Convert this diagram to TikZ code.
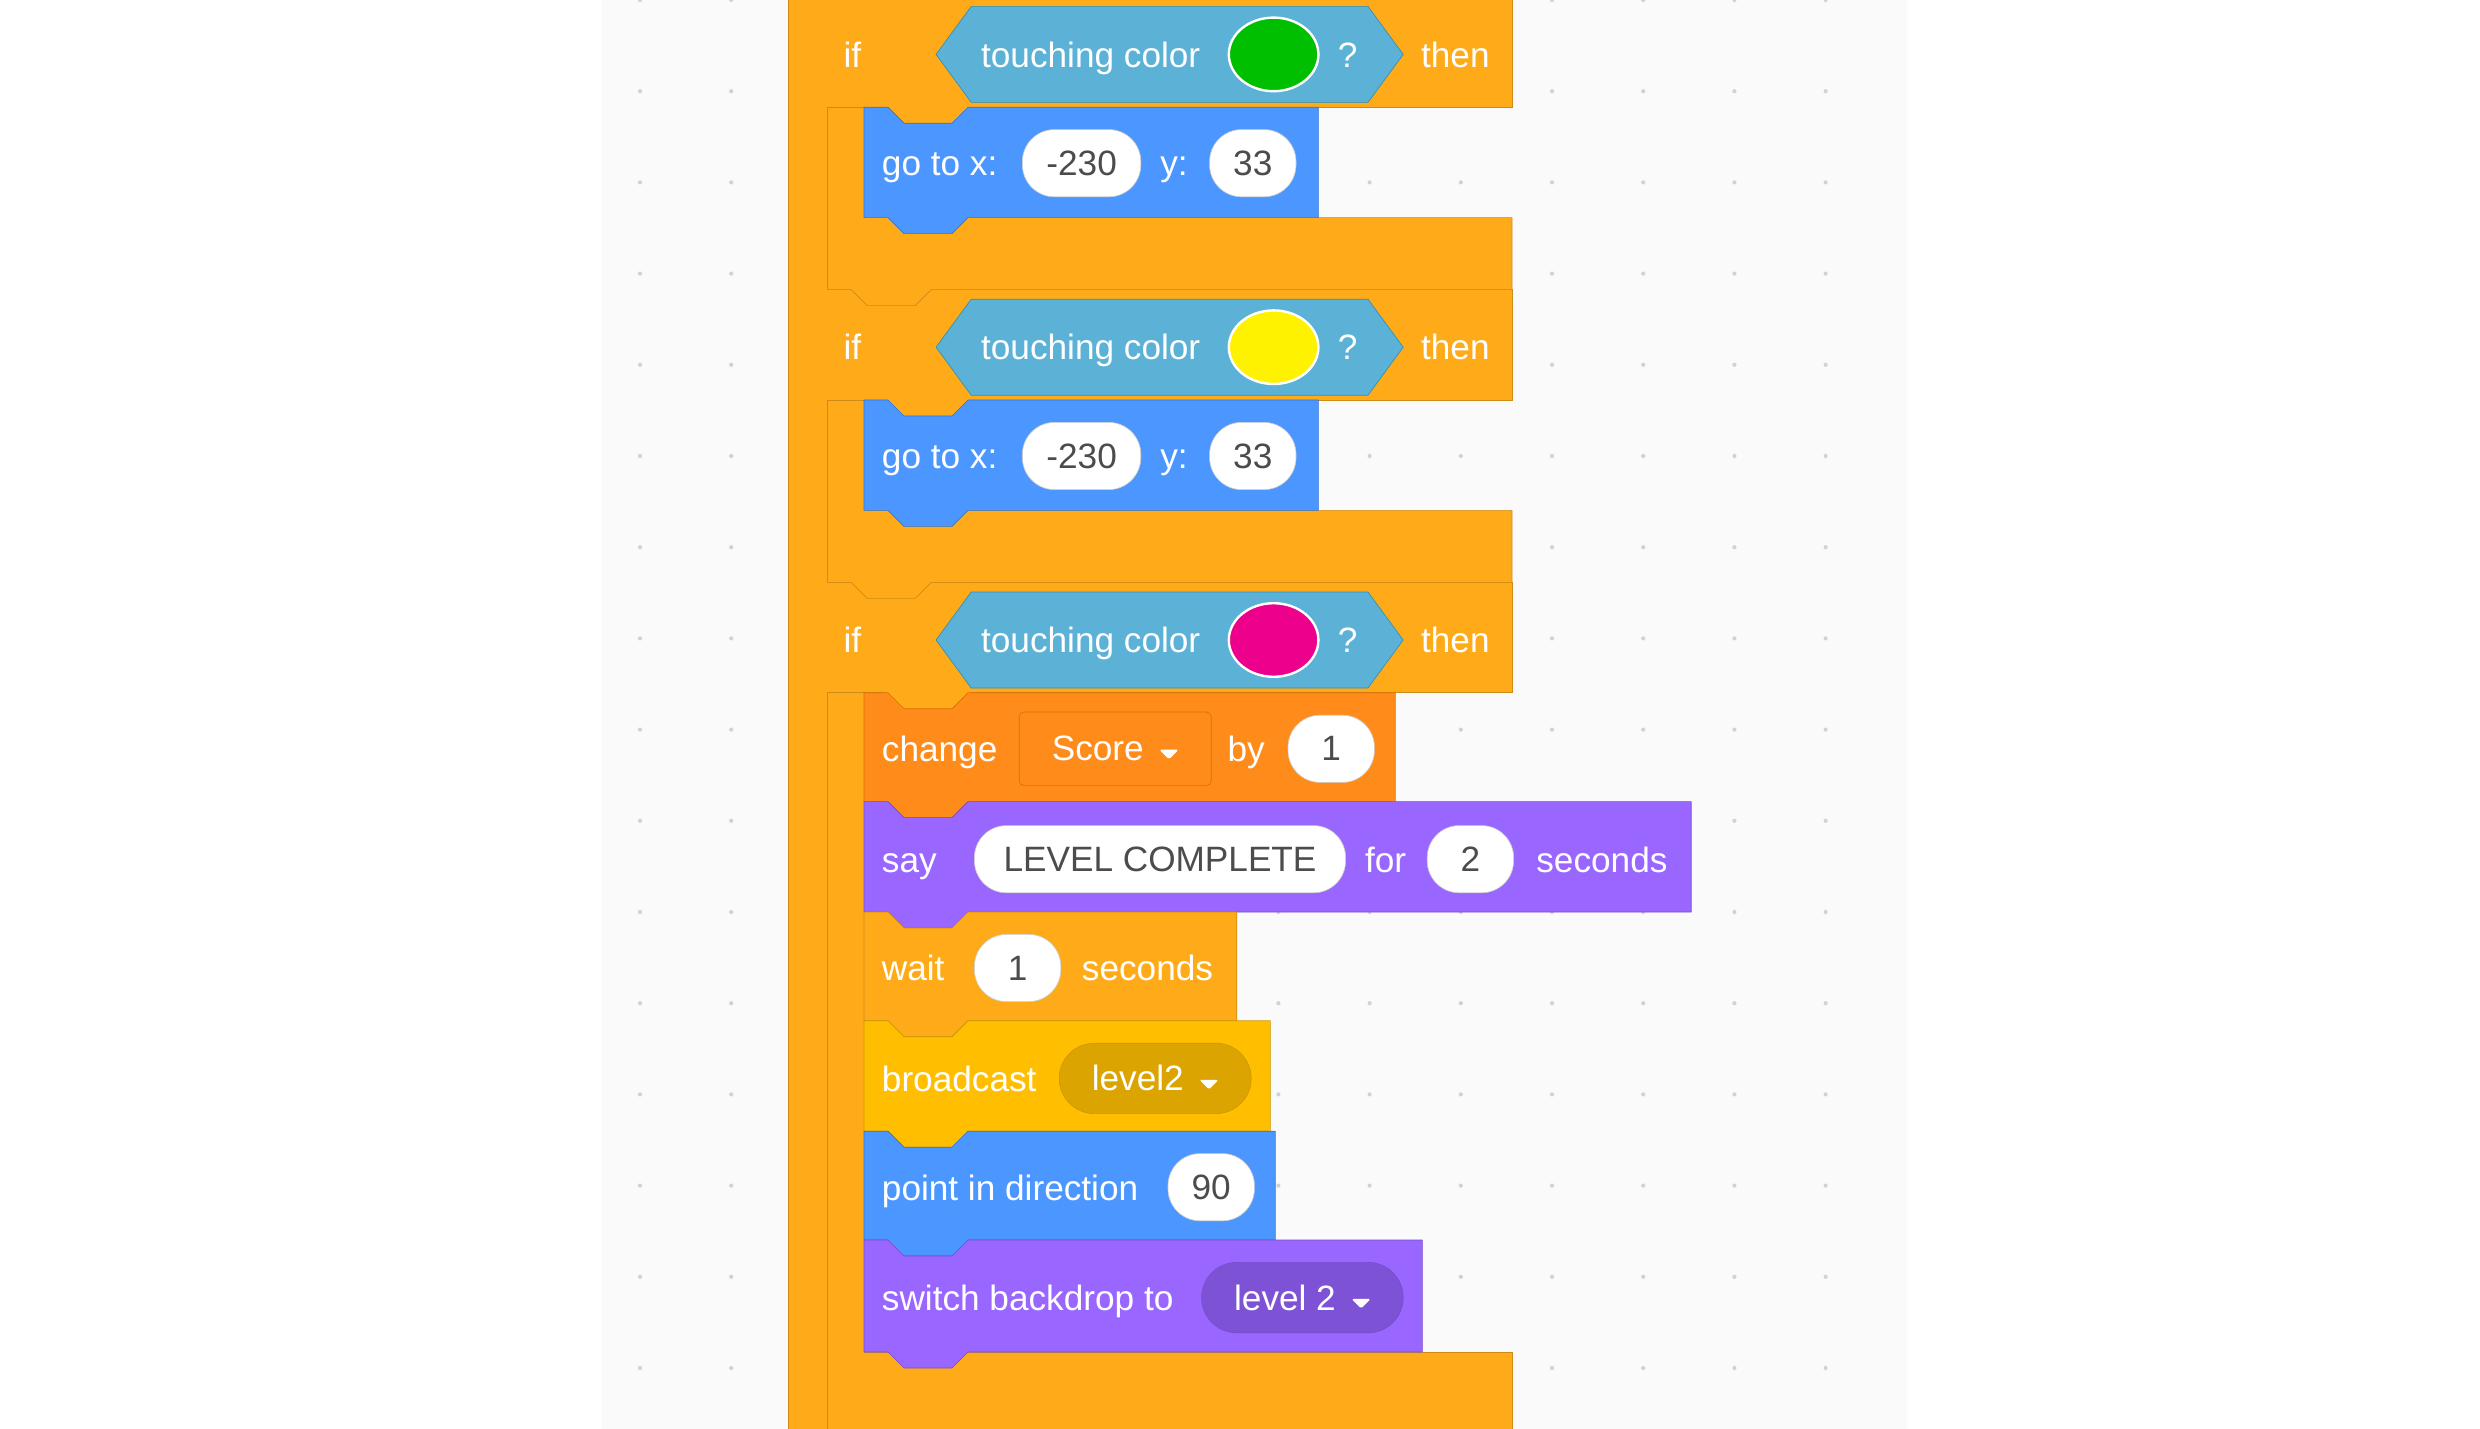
\documentclass[tikz,border=0pt]{standalone}
\usepackage{fontspec}
\setmainfont{Liberation Sans}
\usetikzlibrary{shapes.geometric}
\newcommand\tri{\,\tikz[x=1pt,y=1pt,baseline=-1pt]\fill[white,rounded corners=1pt] (0,6)--(12,6)--(6,0)--cycle;}
\begin{document}
\begin{tikzpicture}[x=1pt,y=-1pt,
 t/.style={text=white,font=\fontsize{22}{24}\selectfont,inner sep=0pt,anchor=base west,yshift=-8pt},
 pill/.style={fill=white,draw=black!20,rounded corners=20pt,minimum height=42pt,inner sep=0pt,text=black!70,font=\fontsize{22}{24}\selectfont},
 dd/.style={text=white,font=\fontsize{22}{24}\selectfont,minimum height=46pt,inner sep=0pt}]
\useasboundingbox (0,0) rectangle (1550,893);
\fill[white] (0,0) rectangle (1550,893);
\fill[black!2] (376,0) rectangle (1192,893);
\foreach \i in {0,...,13}{\foreach \j in {0,...,15}{\fill[black!18] (400+57*\i,0+57*\j) circle (1.3);}}
\newcommand\blk[6]{\draw[fill=#5,draw=#6,line join=round] (#1,#2)--(#1+15,#2)--(#1+25,#2+10)--(#1+55,#2+10)--(#1+65,#2)--(#3,#2)--(#3,#4)--(#1+65,#4)--(#1+55,#4+10)--(#1+25,#4+10)--(#1+15,#4)--(#1,#4)--cycle;}
\definecolor{ctl}{HTML}{FFAB19}\definecolor{ctlb}{HTML}{CF8B17}
\definecolor{mot}{HTML}{4C97FF}\definecolor{motb}{HTML}{3373CC}
\definecolor{var}{HTML}{FF8C1A}\definecolor{varb}{HTML}{DB6E00}
\definecolor{lk}{HTML}{9966FF}\definecolor{lkb}{HTML}{774DCB}
\definecolor{ev}{HTML}{FFBF00}\definecolor{evb}{HTML}{CC9900}
\definecolor{sen}{HTML}{5CB1D6}\definecolor{senb}{HTML}{2E8EB8}
% outer bar and inner arm
\draw[fill=ctl,draw=ctlb] (493,-5) rectangle (540,898);
\draw[ctlb] (517,-5)--(517,898);
% if heads
\foreach \y/\c/\nm in {0/green!75!black/a,183/yellow/b,366/magenta/c}{
 \draw[fill=ctl,draw=ctlb] (517,\y-2)--(945,\y-2)--(945,\y+67)--(517,\y+67);
 \fill[ctl] (553,\y+66) rectangle (607,\y+79);
 \node[t] (if\nm) at (527,\y+34) {if};
 \draw[fill=sen,draw=senb] (585,\y+34)--(607,\y+4)--(855,\y+4)--(877,\y+34)--(855,\y+64)--(607,\y+64)--cycle;
 \node[t] (tc\nm) at (613,\y+34) {touching color};
 \node[ellipse,fill=\c,draw=white,line width=1.5pt,minimum width=56pt,minimum height=46pt] (col\nm) at (796,\y+34) {};
 \node[t] (q\nm) at (836,\y+34) {?};
 \node[t] (th\nm) at (888,\y+34) {then};
}
% arms with bottom tab
\foreach \y in {136,319}{\draw[fill=ctl,draw=ctlb,line join=round] (540,\y)--(945,\y)--(945,\y+45)--(582,\y+45)--(572,\y+55)--(542,\y+55)--(532,\y+45)--(517,\y+45);}
\fill[ctl] (518,137) rectangle (541,180);
\fill[ctl] (518,320) rectangle (541,363);
\draw[fill=ctl,draw=ctlb] (540,845)--(945,845)--(945,898)--(517,898);
\fill[ctl] (518,846) rectangle (541,893);
% go to blocks
\foreach \y/\nm in {67/a,250/b}{
 \blk{540}{\y}{824}{\y+69}{mot}{motb}
 \node[t] (g\nm) at (551,\y+35) {go to x:};
 \node[pill,minimum width=74pt] (gx\nm) at (676,\y+35) {-230};
 \node[t] (gy\nm) at (725,\y+35) {y:};
 \node[pill,minimum width=54pt] (gyv\nm) at (783,\y+35) {33};
}
% change
\blk{540}{433}{872}{501}{var}{varb}
\node[t] (ch) at (551,468) {change};
\node[dd,draw=varb,fill=var,minimum width=120pt,rounded corners=3pt] (sc) at (697,468) {Score \tri};
\node[t] (by) at (767,468) {by};
\node[pill,minimum width=54pt] (byv) at (832,468) {1};
% say
\blk{540}{501}{1057}{570}{lk}{lkb}
\node[t] (say) at (551,537) {say};
\node[pill,minimum width=232pt] (lc) at (725,537) {LEVEL COMPLETE};
\node[t] (for) at (853,537) {for};
\node[pill,minimum width=54pt] (fv) at (919,537) {2};
\node[t] (sec) at (960,537) {seconds};
% wait
\blk{540}{570}{773}{638}{ctl}{ctlb}
\node[t] (w) at (551,605) {wait};
\node[pill,minimum width=54pt] (wv) at (636,605) {1};
\node[t] (ws) at (676,605) {seconds};
% broadcast
\blk{540}{638}{794}{707}{ev}{evb}
\node[t] (bc) at (551,674) {broadcast};
\node[dd,fill=evb!70!ev,draw=evb,minimum width=120pt,rounded corners=22pt,minimum height=44pt] (l2) at (722,674) {level2 \tri};
% point
\blk{540}{707}{797}{775}{mot}{motb}
\node[t] (pd) at (551,742) {point in direction};
\node[pill,minimum width=54pt] (pv) at (757,742) {90};
% switch
\blk{540}{775}{889}{845}{lk}{lkb}
\node[t] (sw) at (551,811) {switch backdrop to};
\node[dd,fill=lkb!80!lk,draw=lkb,minimum width=126pt,rounded corners=22pt,minimum height=44pt] (bd) at (814,811) {level 2 \tri};
\end{tikzpicture}
\end{document}
